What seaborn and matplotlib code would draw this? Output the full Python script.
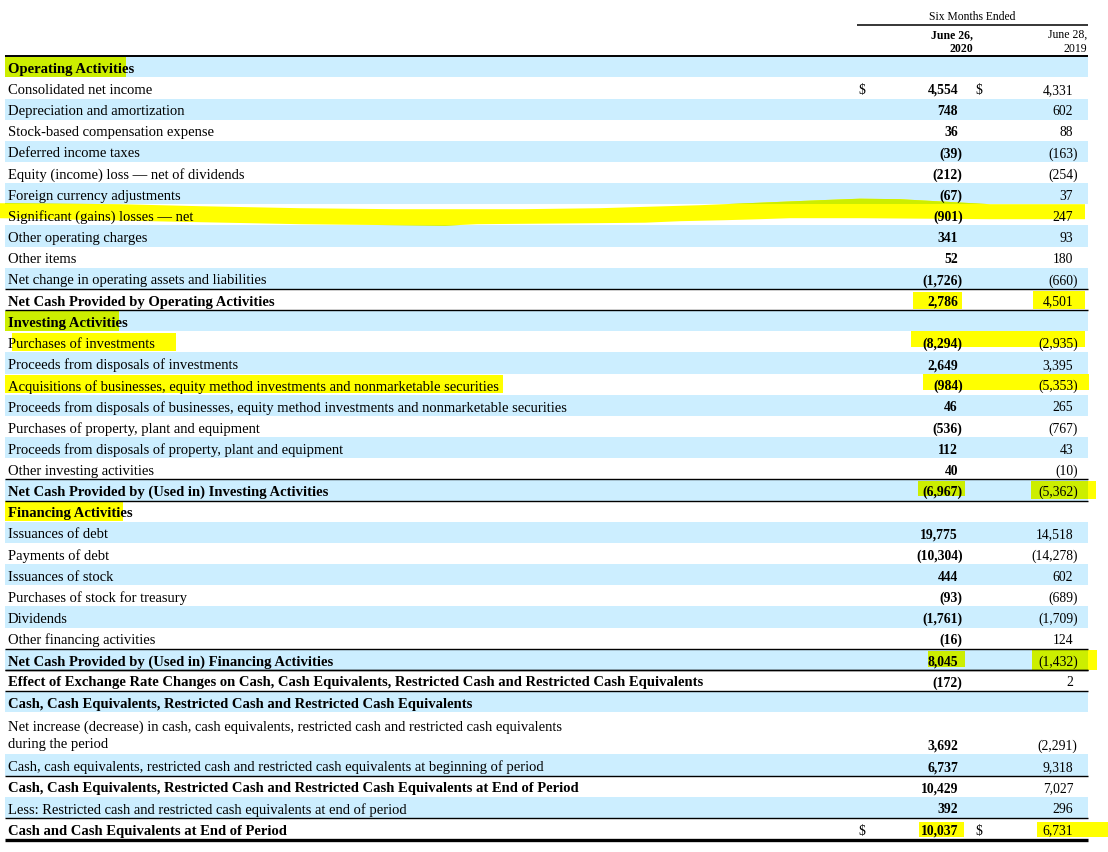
import matplotlib
matplotlib.use("Agg")
import matplotlib.pyplot as plt
from matplotlib.patches import Rectangle, Polygon
from matplotlib.path import Path
import seaborn as sns

# rows of the cash flow statement (None = section heading, no amounts)
labels = [
    "Operating Activities",
    "Consolidated net income",
    "Depreciation and amortization",
    "Stock-based compensation expense",
    "Deferred income taxes",
    "Equity (income) loss \u2014 net of dividends",
    "Foreign currency adjustments",
    "Significant (gains) losses \u2014 net",
    "Other operating charges",
    "Other items",
    "Net change in operating assets and liabilities",
    "Net Cash Provided by Operating Activities",
    "Investing Activities",
    "Purchases of investments",
    "Proceeds from disposals of investments",
    "Acquisitions of businesses, equity method investments and nonmarketable securities",
    "Proceeds from disposals of businesses, equity method investments and nonmarketable securities",
    "Purchases of property, plant and equipment",
    "Proceeds from disposals of property, plant and equipment",
    "Other investing activities",
    "Net Cash Provided by (Used in) Investing Activities",
    "Financing Activities",
    "Issuances of debt",
    "Payments of debt",
    "Issuances of stock",
    "Purchases of stock for treasury",
    "Dividends",
    "Other financing activities",
    "Net Cash Provided by (Used in) Financing Activities",
    "Effect of Exchange Rate Changes on Cash, Cash Equivalents, Restricted Cash and Restricted Cash Equivalents",
    "Cash, Cash Equivalents, Restricted Cash and Restricted Cash Equivalents",
    "Net increase (decrease) in cash, cash equivalents, restricted cash and restricted cash equivalents\nduring the period",
    "Cash, cash equivalents, restricted cash and restricted cash equivalents at beginning of period",
    "Cash, Cash Equivalents, Restricted Cash and Restricted Cash Equivalents at End of Period",
    "Less: Restricted cash and restricted cash equivalents at end of period",
    "Cash and Cash Equivalents at End of Period",
]
v2020 = [None, 4554, 748, 36, -39, -212, -67, -901, 341, 52, -1726, 2786,
         None, -8294, 2649, -984, 46, -536, 112, 40, -6967,
         None, 19775, -10304, 444, -93, -1761, -16, 8045, -172,
         None, 3692, 6737, 10429, 392, 10037]
v2019 = [None, 4331, 602, 88, -163, -254, 37, 247, 93, 180, -660, 4501,
         None, -2935, 3395, -5353, 265, -767, 43, -10, -5362,
         None, 14518, -14278, 602, -689, -1709, 124, -1432, 2,
         None, -2291, 9318, 7027, 296, 6731]
col_head = ["June 26,\n2020", "June 28,\n2019"]
period_head = "Six Months Ended"
total_rows = [11, 20, 28, 29, 33, 35]
dollar_rows = [1, 35]

sns.set_theme(style="white")
plt.rcParams["font.family"] = ["Liberation Serif", "DejaVu Serif"]
plt.rcParams["text.color"] = "black"

BLUE = "#cceeff"
YELLOW = "#ffff00"
LIME = "#ccee00"
FS = 10.55
NFS = 9.8

fig = plt.figure(figsize=(11.08, 8.53), dpi=100)
ax = fig.add_axes([0, 0, 1, 1])
ax.set_xlim(0, 1108)
ax.set_ylim(853, 0)
ax.axis("off")

TOP = 57.2
UNIT = 21.16
X0, X1 = 5, 1088
DY = 1.5  # text sits a little below the row middle

def fmt(v):
    return f"({abs(v):,})" if v < 0 else f"{v:,}"

# row geometry
tops, bots = [], []
y = TOP
for lab in labels:
    tops.append(y)
    y += UNIT * (lab.count("\n") + 1)
    bots.append(y)

# alternating bands
band_paths = []
for i in range(len(labels)):
    if i % 2 == 0:
        ax.add_patch(Rectangle((X0, tops[i]), X1 - X0, bots[i] - tops[i],
                               color=BLUE, lw=0, zorder=0))
        band_paths.append(Path([(X0, tops[i]), (X1, tops[i]), (X1, bots[i]),
                                (X0, bots[i]), (X0, tops[i])], closed=True))
band_clip = Path.make_compound_path(*band_paths)

def mid(i):
    return (tops[i] + bots[i]) / 2

# highlighter strokes (drawn yellow, lime where they sit on a blue band)
def mark(verts):
    ax.add_patch(Polygon(verts, closed=True, color=YELLOW, lw=0, zorder=1))
    p = Polygon(verts, closed=True, color=LIME, lw=0, zorder=1.5)
    ax.add_patch(p)
    p.set_clip_path(band_clip, ax.transData)

def box(i, xa, xb, da, db):
    c = mid(i)
    mark([(xa, c + da), (xb, c + da), (xb, c + db), (xa, c + db)])

box(0, 5, 126, -10, 10)
box(11, 913, 962, -8, 9)
box(11, 1033, 1085, -9, 9)
box(12, 5, 119, -10, 10)
box(13, 12, 176, -9, 9)
box(13, 911, 1085, -11, 5)
box(15, 5, 503, -9, 9)
box(15, 923, 1089, -10, 6)
box(20, 918, 965, -9, 6)
box(20, 1031, 1096, -9, 9)
box(21, 5, 123, -10, 10)
box(28, 928, 965, -8, 8)
box(28, 1032, 1097, -9, 11)
box(35, 919, 964, -7, 8)
box(35, 1037, 1108, -7, 8)

top_edge = [(0, 204), (120, 205), (200, 207), (300, 209), (395, 210), (522, 210),
            (600, 209), (650, 207.5), (700, 206), (760, 203.5), (820, 201),
            (860, 199.5), (900, 200), (990, 205), (1085, 205)]
bot_edge = [(1085, 220), (990, 220), (860, 219), (790, 219), (760, 220),
            (725, 221), (680, 222), (645, 223.5), (595, 224), (477, 225),
            (445, 226.5), (300, 225), (200, 223), (100, 221), (0, 219)]
off = mid(7) - 215.7
mark([(x, y + off) for x, y in top_edge + bot_edge])

# rules
def rule(yv, lw=1.0, xa=X0):
    ax.plot([xa, X1], [yv, yv], color="black", lw=lw, zorder=2,
            solid_capstyle="butt")

rule(26, 1.1, 857)
rule(TOP, 1.4)
for i in total_rows:
    rule(tops[i])
    if i == len(labels) - 1:
        rule(bots[i] + 0.5, 2.4)
    elif v2020[i + 1] is None or (i + 1) in total_rows:
        rule(bots[i])

# header
ax.text(972.5, 16.5, period_head, fontsize=8.4, ha="center", va="center")
ax.text(973, 41.8, col_head[0], fontsize=8.5, ha="right", va="center",
        fontweight="bold", linespacing=1.2)
ax.text(1087, 41.8, col_head[1], fontsize=8.5, ha="right", va="center",
        linespacing=1.2)

# body text
for i, lab in enumerate(labels):
    bold = v2020[i] is None or i in total_rows
    ax.text(8, mid(i) + DY, lab, fontsize=FS, ha="left", va="center",
            fontweight="bold" if bold else "normal", linespacing=1.35)
    if v2020[i] is None:
        continue
    yv = bots[i] - UNIT / 2 + DY
    a, b = v2020[i], v2019[i]
    ax.text(958 + (4.7 if a < 0 else 0), yv, fmt(a), fontsize=NFS,
            ha="right", va="center", fontweight="bold")
    ax.text(1073.3 + (4.4 if b < 0 else 0), yv, fmt(b), fontsize=NFS,
            ha="right", va="center")
    if i in dollar_rows:
        ax.text(862, yv, "$", fontsize=NFS, ha="center", va="center")
        ax.text(979, yv, "$", fontsize=NFS, ha="center", va="center")

fig.savefig("out.png", dpi=100)
